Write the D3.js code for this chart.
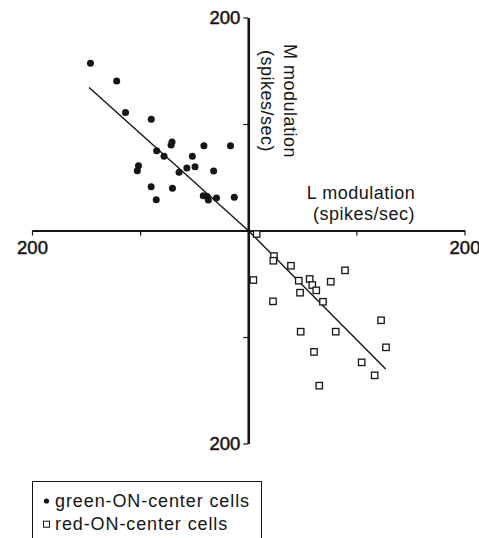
<!DOCTYPE html>
<html>
<head>
<meta charset="utf-8">
<script src="https://cdn.jsdelivr.net/npm/d3@7"></script>
<style>
  body { margin: 0; background: #fff; }
  svg { display: block; font-family: "Liberation Sans", Arial, sans-serif; }
</style>
</head>
<body>
<div id="chart"></div>
<script>
/* DATA */
// green-ON-center cells: [L modulation, M modulation] (spikes/sec)
const greenCells = [
  [-145.9, 157], [-121.7, 140.4], [-113.5, 110.8], [-89.7, 104.4],
  [-71.4, 80.3], [-70.5, 83.1], [-84.7, 74.9], [-77.9, 69.7],
  [-101.5, 60.8], [-102.6, 56.2], [-41, 79.5], [-16.4, 79.5],
  [-51.7, 69.7], [-56.8, 58.7], [-49.2, 59.9], [-64, 54.6],
  [-32, 55.9], [-89.8, 41.1], [-70.1, 39.7], [-85.1, 28.8],
  [-41.6, 32.6], [-38, 31.9], [-36.9, 28.6], [-29.4, 30.5], [-12.9, 31.2]
];
// red-ON-center cells
const redCells = [
  [7.8, -3.3], [23.8, -24], [23.2, -28.4], [39.5, -33.1], [89.5, -37.4],
  [4.7, -46.5], [46.7, -47.1], [56.8, -45.5], [76.3, -48.1], [59.2, -51.2],
  [62.9, -56.2], [47.9, -58.4], [22.9, -66.5], [69.1, -66.9], [122.8, -84.3],
  [48.5, -95], [80.9, -95], [127.4, -109.7], [60.8, -114], [104.9, -123.8],
  [116.9, -136], [65.7, -145.7]
];
// regression lines
const greenFit = [[-147.2, 134.2], [0, 0]];
const redFit = [[0, 0], [127.1, -130]];

const axisTicks = [-200, -100, 100, 200];
const legendLabels = ["green-ON-center cells", "red-ON-center cells"];

/* CONSTANTS */
const width = 479, height = 538;
const ink = "#151515";

const svg = d3.select("#chart").append("svg")
  .attr("width", width)
  .attr("height", height);

const xScale = d3.scaleLinear().domain([-200, 200]).range([32, 464.5]);
const yScale = d3.scaleLinear().domain([-200, 200]).range([443.5, 17.5]);

const tickFmt = d => Math.abs(d) === 200 ? String(Math.abs(d)) : "";

// AXES
const xAxis = svg.append("g")
  .attr("transform", `translate(0, ${yScale(0)})`)
  .call(d3.axisBottom(xScale).tickValues(axisTicks).tickFormat(tickFmt)
    .tickSize(5).tickSizeOuter(0).tickPadding(5));

const yAxis = svg.append("g")
  .attr("transform", `translate(${xScale(0)}, 0)`)
  .call(d3.axisLeft(yScale).tickValues(axisTicks).tickFormat(tickFmt)
    .tickSize(5).tickSizeOuter(0).tickPadding(3));

xAxis.select(".domain").attr("stroke", ink).attr("stroke-width", 2.2);
yAxis.select(".domain").attr("stroke", ink).attr("stroke-width", 2.6);
[xAxis, yAxis].forEach(g => {
  g.selectAll(".tick line").attr("stroke", ink).attr("stroke-width", 1.2);
  g.selectAll(".tick text")
    .attr("fill", ink)
    .attr("stroke", ink)
    .attr("stroke-width", 0.5)
    .style("font-size", "18.5px");
});

// axis titles
const titleStyle = sel => sel
  .attr("text-anchor", "middle")
  .attr("fill", ink)
  .style("font-size", "18px")
  .style("letter-spacing", "0.5px");

svg.append("text")
  .attr("x", 361).attr("y", 198.5)
  .call(titleStyle)
  .text("L modulation");
svg.append("text")
  .attr("x", 364).attr("y", 219.5)
  .call(titleStyle)
  .text("(spikes/sec)");

const mTitle = svg.append("g")
  .attr("transform", "translate(284, 101) rotate(90)");
mTitle.append("text")
  .attr("x", 0).attr("y", 0)
  .call(titleStyle)
  .text("M modulation");
mTitle.append("text")
  .attr("x", 0).attr("y", 23)
  .call(titleStyle)
  .text("(spikes/sec)");

// REGRESSION LINES
const lineFunc = d3.line()
  .x(d => xScale(d[0]))
  .y(d => yScale(d[1]));

svg.selectAll(".fit")
  .data([greenFit, redFit])
  .join("path")
  .attr("class", "fit")
  .attr("d", lineFunc)
  .attr("fill", "none")
  .attr("stroke", ink)
  .attr("stroke-width", 1.4);

// POINTS
svg.selectAll(".green")
  .data(greenCells)
  .join("circle")
  .attr("class", "green")
  .attr("cx", d => xScale(d[0]))
  .attr("cy", d => yScale(d[1]))
  .attr("r", 3.5)
  .attr("fill", ink);

const sq = 6.4;
svg.selectAll(".red")
  .data(redCells)
  .join("rect")
  .attr("class", "red")
  .attr("x", d => xScale(d[0]) - sq / 2)
  .attr("y", d => yScale(d[1]) - sq / 2)
  .attr("width", sq)
  .attr("height", sq)
  .attr("fill", "#fff")
  .attr("stroke", ink)
  .attr("stroke-width", 1.3);

// LEGEND
const legend = svg.append("g");
legend.append("rect")
  .attr("x", 32.5).attr("y", 481.5)
  .attr("width", 229).attr("height", 80)
  .attr("fill", "none")
  .attr("stroke", ink)
  .attr("stroke-width", 1);

const items = legend.selectAll(".item")
  .data(legendLabels)
  .join("g")
  .attr("class", "item")
  .attr("transform", (d, i) => `translate(0, ${506.5 + i * 23.5})`);

items.append("text")
  .attr("x", 55)
  .attr("fill", ink)
  .style("font-size", "18px")
  .style("letter-spacing", "0.9px")
  .text(d => d);

items.filter((d, i) => i === 0).append("circle")
  .attr("cx", 46.5).attr("cy", -5.5).attr("r", 2.6).attr("fill", ink);
items.filter((d, i) => i === 1).append("rect")
  .attr("x", 43.5).attr("y", -8.8).attr("width", 6).attr("height", 6)
  .attr("fill", "#fff").attr("stroke", ink).attr("stroke-width", 1);
</script>
</body>
</html>
